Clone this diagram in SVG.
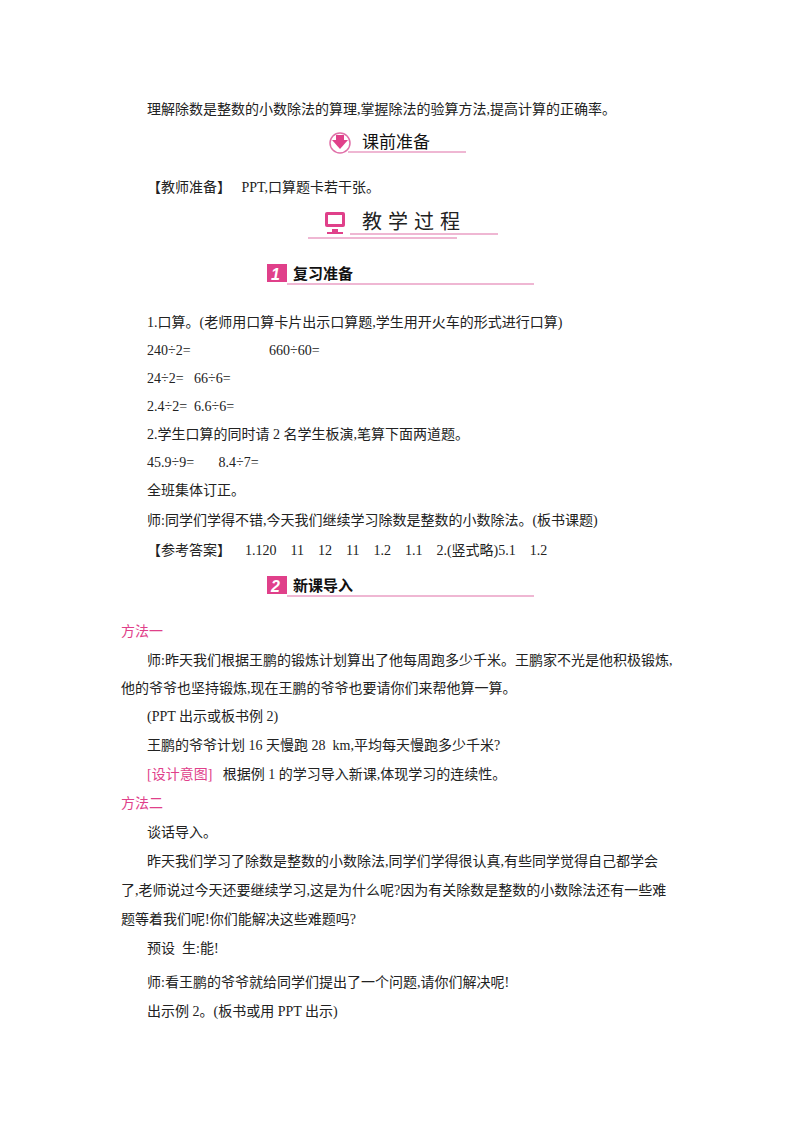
<svg xmlns="http://www.w3.org/2000/svg" width="800" height="1132" viewBox="0 0 800 1132">
<style>
text{font-family:"Liberation Serif","Noto Sans CJK SC",serif;font-size:14px;fill:#222;white-space:pre}
.h{font-family:"Noto Sans CJK SC",sans-serif;font-size:15px;font-weight:bold;fill:#111}
.pk{fill:#e0408a}
.ln{stroke:#e070a8;stroke-width:1.2}
</style>
<rect width="800" height="1132" fill="#fff"/>
<text x="147" y="114">理解除数是整数的小数除法的算理,掌握除法的验算方法,提高计算的正确率。</text>
<g id="sec-kq">
<circle cx="340" cy="143" r="10" fill="#fff" stroke="#e070a8" stroke-width="1.5"/>
<rect x="336" y="135" width="8" height="6" class="pk"/><path d="M332,140 L348,140 L340,149 Z" class="pk"/>
<line x1="348" y1="152" x2="466" y2="152" class="ln"/>
<text x="362" y="148" class="h" style="font-weight:normal;font-size:17px">课前准备</text>
</g>
<text x="147" y="192">【教师准备】   PPT,口算题卡若干张。</text>
<g id="sec-jx">
<rect x="325" y="212" width="20" height="15" rx="2" class="pk"/><rect x="328" y="215" width="14" height="9" fill="#fff"/><rect x="332" y="229" width="6" height="3" class="pk"/><rect x="327" y="232" width="16" height="2" class="pk"/>
<line x1="350" y1="234" x2="498" y2="234" class="ln"/><line x1="308" y1="238" x2="457" y2="238" class="ln"/>
<text x="362" y="229" style="font-size:20px;letter-spacing:6px">教学过程</text>
</g>
<g id="sec-fx">
<rect x="267" y="264" width="20" height="18" class="pk"/><text x="271" y="280" style="font-size:16px;font-weight:bold;font-style:italic;fill:#fff;font-family:'Liberation Sans',sans-serif">1</text>
<line x1="287" y1="284" x2="534" y2="284" class="ln"/>
<text x="293" y="279" class="h">复习准备</text>
</g>
<text x="147" y="327">1.口算。(老师用口算卡片出示口算题,学生用开火车的形式进行口算)</text>
<text x="147" y="355">240÷2=</text><text x="269" y="355">660÷60=</text>
<text x="147" y="383">24÷2=   66÷6=</text>
<text x="147" y="411">2.4÷2=  6.6÷6=</text>
<text x="147" y="439">2.学生口算的同时请 2 名学生板演,笔算下面两道题。</text>
<text x="147" y="467">45.9÷9=       8.4÷7=</text>
<text x="147" y="495">全班集体订正。</text>
<text x="147" y="525">师:同学们学得不错,今天我们继续学习除数是整数的小数除法。(板书课题)</text>
<text x="147" y="555">【参考答案】    1.120    11    12    11    1.2    1.1    2.(竖式略)5.1    1.2</text>
<g id="sec-xk">
<rect x="267" y="576" width="20" height="18" class="pk"/><text x="271" y="592" style="font-size:16px;font-weight:bold;font-style:italic;fill:#fff;font-family:'Liberation Sans',sans-serif">2</text>
<line x1="287" y1="596" x2="534" y2="596" class="ln"/>
<text x="293" y="591" class="h">新课导入</text>
</g>
<text x="121" y="636" style="fill:#e0408a">方法一</text>
<text x="147" y="665">师:昨天我们根据王鹏的锻炼计划算出了他每周跑多少千米。王鹏家不光是他积极锻炼,</text>
<text x="121" y="693">他的爷爷也坚持锻炼,现在王鹏的爷爷也要请你们来帮他算一算。</text>
<text x="147" y="721">(PPT 出示或板书例 2)</text>
<text x="147" y="750">王鹏的爷爷计划 16 天慢跑 28  km,平均每天慢跑多少千米?</text>
<text x="147" y="779"><tspan style="fill:#e0408a">[设计意图]</tspan>   根据例 1 的学习导入新课,体现学习的连续性。</text>
<text x="121" y="808" style="fill:#e0408a">方法二</text>
<text x="147" y="837">谈话导入。</text>
<text x="147" y="866">昨天我们学习了除数是整数的小数除法,同学们学得很认真,有些同学觉得自己都学会</text>
<text x="121" y="895">了,老师说过今天还要继续学习,这是为什么呢?因为有关除数是整数的小数除法还有一些难</text>
<text x="121" y="924">题等着我们呢!你们能解决这些难题吗?</text>
<text x="147" y="953">预设  生:能!</text>
<text x="147" y="987">师:看王鹏的爷爷就给同学们提出了一个问题,请你们解决呢!</text>
<text x="147" y="1016">出示例 2。(板书或用 PPT 出示)</text>
</svg>
